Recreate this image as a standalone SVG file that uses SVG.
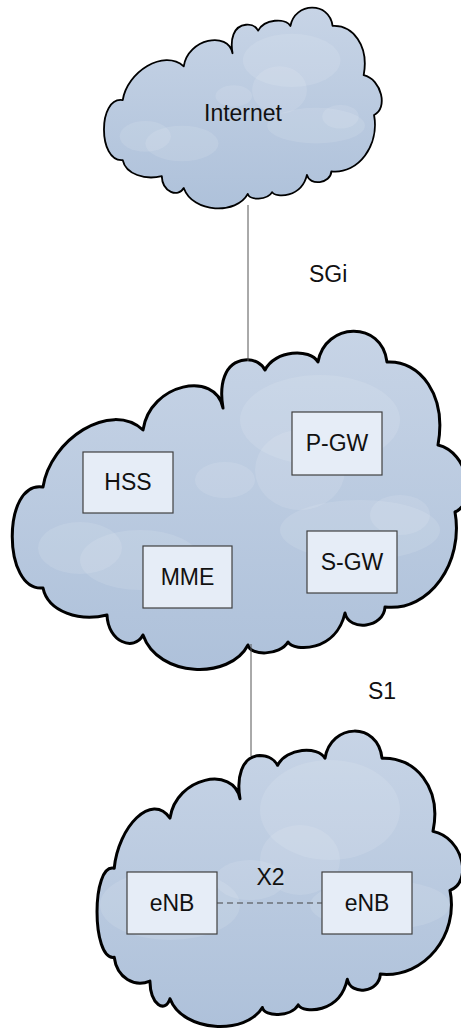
<svg xmlns="http://www.w3.org/2000/svg" xmlns:xlink="http://www.w3.org/1999/xlink" width="461" height="1030" viewBox="0 0 461 1030">
  <style>
    .box { fill: #e6edf7; stroke: #404040; stroke-width: 1.2; }
    .lbl { font-family: "Liberation Sans", Arial, sans-serif; font-size: 23px; fill: #111; }
    .mid { text-anchor: middle; }
    .conn { stroke: #555; stroke-width: 1; fill: none; }
    .dash { stroke: #444; stroke-width: 1.2; stroke-dasharray: 6 4; fill: none; }
    .cloudFill { fill: url(#cloudGrad); }
    .cloudLine { fill: none; stroke: #000; stroke-width: 3; stroke-linejoin: round; }
    .puff { fill: #ffffff; opacity: 0.11; }
  </style>
  <defs>
    <linearGradient id="cloudGrad" x1="0" y1="0" x2="0" y2="1">
      <stop offset="0" stop-color="#c7d4e6"/>
      <stop offset="1" stop-color="#aec1da"/>
    </linearGradient>
    <path id="cloudPath" d="M223,408 C219,385 224,362 245,360 C255,359 262,364 265,370 C275,350 310,348 318,362 C325,322 382,320 387,362 C420,360 447,395 438,445 C468,452 478,502 455,512 C464,562 430,612 385,607 C384,628 349,632 345,613 C336,652 294,652 288,642 C280,656 250,656 248,645 C230,680 158,678 143,635 C134,652 108,642 107,615 C80,622 48,612 43,588 C2,592 2,480 43,487 C50,440 110,400 143,430 C150,383 216,370 223,408 Z"/>
    <path id="ranPath" d="M240,798.7 C236.5,778.5 240.9,756.5 259.7,755.6 C268.6,755.6 274.9,760 277.6,765.3 C286.5,747.7 317.9,745.9 325,758.2 C330.8,723 377.9,721.2 382,758.2 C415,756.5 442,787.3 433,831.4 C463,837.5 473,881.6 450,890.4 C459,934.4 425,978.5 380.3,974.1 C379.5,992.6 350.6,996.1 347.3,979.3 C339.9,1013.7 303.5,1013.7 298.2,1004.9 C291,1017.2 264.2,1017.2 262.4,1007.5 C246.3,1035 183.1,1033 170,998.7 C165,1013.7 150.5,1004.9 149.9,981.1 C134.8,987.3 117,978.5 114.2,957.3 C91.3,960.9 91.3,862.2 114.2,868.3 C118.1,826.9 151.6,791.7 170,818.1 C176.1,776.7 233.9,765.3 240,798.7 Z"/>
    <clipPath id="cloudClip"><use xlink:href="#cloudPath"/></clipPath>
    <clipPath id="ranClip"><use xlink:href="#ranPath"/></clipPath>
    <g id="cloud">
      <use xlink:href="#cloudPath" class="cloudFill"/>
      <g clip-path="url(#cloudClip)">
        <ellipse class="puff" cx="80" cy="548" rx="42" ry="26"/>
        <ellipse class="puff" cx="140" cy="560" rx="60" ry="30"/>
        <ellipse class="puff" cx="225" cy="480" rx="30" ry="18"/>
        <ellipse class="puff" cx="320" cy="420" rx="80" ry="45"/>
        <ellipse class="puff" cx="300" cy="470" rx="45" ry="40"/>
        <ellipse class="puff" cx="360" cy="530" rx="80" ry="30"/>
        <ellipse class="puff" cx="400" cy="515" rx="30" ry="20"/>
      </g>
      <use xlink:href="#cloudPath" class="cloudLine" vector-effect="non-scaling-stroke"/>
    </g>
  </defs>

  <g id="internet">
    <use xlink:href="#cloud" transform="translate(96.5,-188.9) scale(0.61,0.5935)"/>
    <text class="lbl mid" x="243" y="121">Internet</text>
  </g>

  <g id="core">
    <use xlink:href="#cloud"/>
  </g>

  <g id="hss">
    <rect class="box" x="83" y="452" width="90" height="61"/>
    <text class="lbl mid" x="128" y="490">HSS</text>
  </g>
  <g id="pgw">
    <rect class="box" x="292" y="412" width="90" height="63"/>
    <text class="lbl mid" x="337" y="451">P-GW</text>
  </g>
  <g id="mme">
    <rect class="box" x="143" y="546" width="89" height="62"/>
    <text class="lbl mid" x="187.5" y="585">MME</text>
  </g>
  <g id="sgw">
    <rect class="box" x="307" y="531" width="90" height="62"/>
    <text class="lbl mid" x="352" y="570">S-GW</text>
  </g>

  <g id="ran">
    <use xlink:href="#ranPath" class="cloudFill"/>
    <g clip-path="url(#ranClip)">
      <ellipse class="puff" cx="330" cy="810" rx="70" ry="50"/>
      <ellipse class="puff" cx="300" cy="860" rx="40" ry="35"/>
      <ellipse class="puff" cx="170" cy="905" rx="70" ry="35"/>
      <ellipse class="puff" cx="250" cy="880" rx="35" ry="20"/>
      <ellipse class="puff" cx="380" cy="905" rx="70" ry="25"/>
    </g>
    <use xlink:href="#ranPath" class="cloudLine"/>
  </g>
  <g id="enb1">
    <rect class="box" x="127" y="872" width="90" height="62"/>
    <text class="lbl mid" x="172" y="911">eNB</text>
  </g>
  <g id="enb2">
    <rect class="box" x="322" y="872" width="90" height="62"/>
    <text class="lbl mid" x="367" y="911">eNB</text>
  </g>

  <g id="connectors">
    <line class="conn" x1="248" y1="205" x2="248" y2="361"/>
    <line class="conn" x1="251" y1="644" x2="251" y2="756"/>
    <line class="dash" x1="217" y1="903" x2="322" y2="903"/>
    <text class="lbl" x="309" y="282">SGi</text>
    <text class="lbl" x="368" y="699">S1</text>
    <text class="lbl mid" x="270.5" y="885">X2</text>
  </g>
</svg>
